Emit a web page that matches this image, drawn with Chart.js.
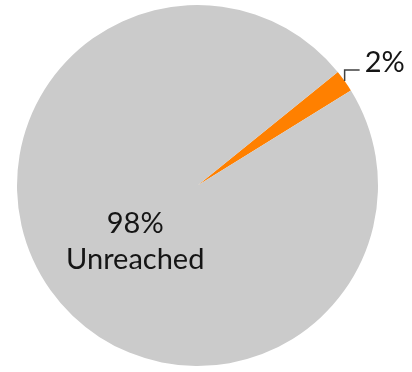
<!DOCTYPE html>
<html>
<head>
<meta charset="utf-8">
<script src="https://cdn.jsdelivr.net/npm/chart.js@4"></script>
<style>
  html, body { margin: 0; padding: 0; background: #fff; }
  #wrap { width: 412px; height: 372px; }
</style>
</head>
<body>
<div id="wrap"><canvas id="reachChart"></canvas></div>
<script>
    const categories = ["Reached", "Unreached"];
    const shares = [2, 98];
    const sliceColors = ["#FF8000", "#CBCBCB"];

    // draws the percent labels the way the original did (inside + leader line)
    const pieLabels = {
        id: "pieLabels",
        afterDatasetsDraw(chart) {
            const ctx = chart.ctx;
            const arcs = chart.getDatasetMeta(0).data;
            ctx.save();
            ctx.fillStyle = "#151515";
            ctx.font = "29px Lato";

            // small slice: elbow leader from the rim
            const a = arcs[0];
            const mid = (a.startAngle + a.endAngle) / 2;
            const sx = a.x + Math.cos(mid) * a.outerRadius;
            const sy = a.y + Math.sin(mid) * a.outerRadius;
            ctx.strokeStyle = "#404040";
            ctx.lineWidth = 1.5;
            ctx.beginPath();
            ctx.moveTo(sx, sy);
            ctx.lineTo(sx, sy - 11);
            ctx.lineTo(sx + 15, sy - 11);
            ctx.stroke();
            ctx.textAlign = "left";
            ctx.textBaseline = "alphabetic";
            ctx.fillText(shares[0] + "%", sx + 20, sy - 9);

            // big slice: text inside
            const b = arcs[1];
            const cx = b.x - 0.345 * b.outerRadius;
            const cy = b.y + 0.265 * b.outerRadius;
            ctx.textAlign = "center";
            ctx.fillText(shares[1] + "%", cx, cy);
            ctx.fillText(categories[1], cx, cy + 36);
            ctx.restore();
        }
    };

    const reachCtx = document.getElementById("reachChart").getContext("2d");
    const reachChart = new Chart(reachCtx, {
        type: "pie",
        data: {
            labels: categories,
            datasets: [
                {
                    data: shares,
                    backgroundColor: sliceColors,
                    borderWidth: 0,
                },
            ],
        },
        options: {
            responsive: true,
            maintainAspectRatio: false,
            animation: false,
            rotation: 51,
            layout: { padding: { left: 17, right: 34, top: 5, bottom: 6 } },
            plugins: {
                legend: { display: false },
                tooltip: { enabled: false },
            },
        },
        plugins: [pieLabels],
    });
</script>
</body>
</html>
